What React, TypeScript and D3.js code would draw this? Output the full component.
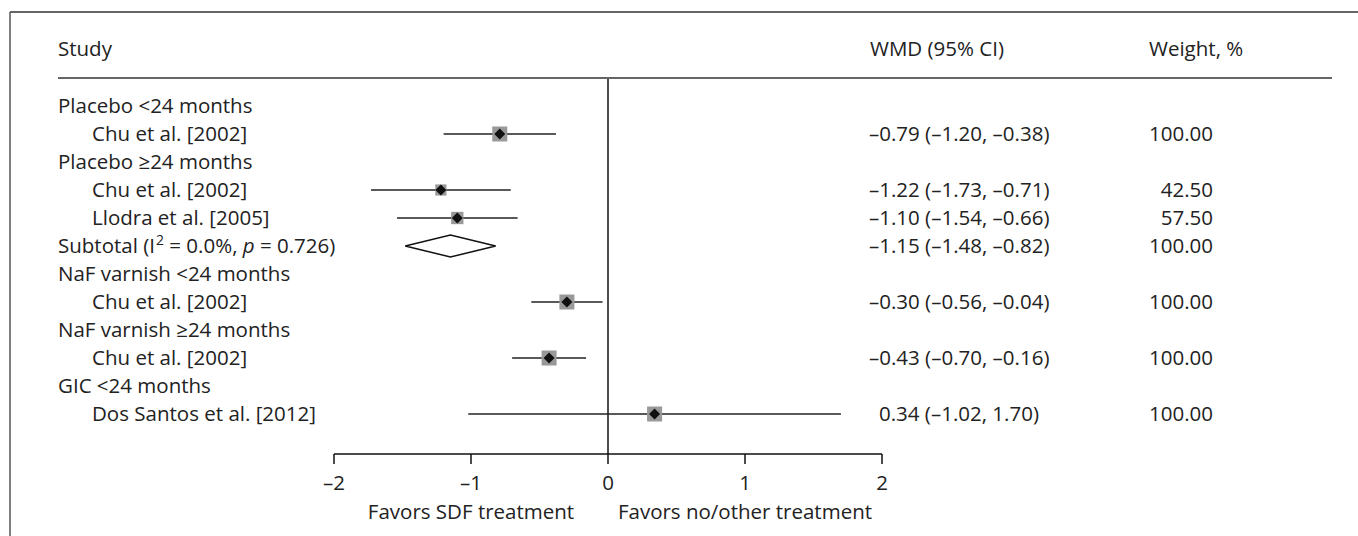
import React from "react";
import * as d3 from "d3";

const rowLabels = [
  "Placebo <24 months",
  "Chu et al. [2002]",
  "Placebo ≥24 months",
  "Chu et al. [2002]",
  "Llodra et al. [2005]",
  "Subtotal",
  "NaF varnish <24 months",
  "Chu et al. [2002]",
  "NaF varnish ≥24 months",
  "Chu et al. [2002]",
  "GIC <24 months",
  "Dos Santos et al. [2012]",
];
const rowKinds = ["group", "study", "group", "study", "study", "subtotal", "group", "study", "group", "study", "group", "study"];
const wmd: (number | null)[] = [null, -0.79, null, -1.22, -1.1, -1.15, null, -0.3, null, -0.43, null, 0.34];
const ciLow: (number | null)[] = [null, -1.2, null, -1.73, -1.54, -1.48, null, -0.56, null, -0.7, null, -1.02];
const ciHigh: (number | null)[] = [null, -0.38, null, -0.71, -0.66, -0.82, null, -0.04, null, -0.16, null, 1.7];
const weights: (number | null)[] = [null, 100, null, 42.5, 57.5, 100, null, 100, null, 100, null, 100];
const subtotalI2 = "0.0%";
const subtotalP = "0.726";
const xTicks = [-2, -1, 0, 1, 2];
const headers = ["Study", "WMD (95% CI)", "Weight, %"];
const favorLabels = ["Favors SDF treatment", "Favors no/other treatment"];
const favorAt = [-1, 1];

const W = 1358;
const H = 536;
const FONT = "'Open Sans', 'Noto Sans', sans-serif";
const TXT = "#222";
const FS = 20.5;

const fmt2 = d3.format(".2f");
const dash = (v: number) => fmt2(v).replace("−", "–").replace("-", "–");

export default function App() {
  const x = d3.scaleLinear().domain([-2, 2]).range([334, 882]);
  const y = d3.scaleLinear().domain([0, rowLabels.length - 1]).range([106, 414]);
  const side = d3.scaleSqrt().domain([0, 100]).range([4, 15]);
  const axisY = 454;
  const base = 7;

  return (
    <div style={{ position: "absolute", left: 0, top: 0 }}>
      <svg width={W} height={H} style={{ display: "block", background: "#fff" }} fontFamily={FONT}>
        {/* frame */}
        <line x1={10} x2={W} y1={12} y2={12} stroke="#333" strokeWidth={1.5} />
        <line x1={10} x2={10} y1={12} y2={H} stroke="#555" strokeWidth={1.5} />
        <line x1={58} x2={1332} y1={78} y2={78} stroke="#333" strokeWidth={1.5} />

        {/* headers */}
        <text x={58} y={56} fontSize={FS} fill={TXT}>{headers[0]}</text>
        <text x={870} y={56} fontSize={FS} fill={TXT}>{headers[1]}</text>
        <text x={1149} y={56} fontSize={FS} fill={TXT}>{headers[2]}</text>

        {/* null line */}
        <line x1={x(0)} x2={x(0)} y1={79} y2={axisY} stroke="#111" strokeWidth={1.5} />

        {rowLabels.map((lab, i) => {
          const kind = rowKinds[i];
          const cy = y(i);
          const tx = kind === "study" ? 92 : 58;
          return (
            <g key={i}>
              {kind === "subtotal" ? (
                <text x={tx} y={cy + base} fontSize={FS} fill={TXT} style={{ whiteSpace: "pre" }}>
                  {lab + " (I"}
                  <tspan fontSize={14} dx={1} dy={-8}>2</tspan>
                  <tspan dy={8}>{" = " + subtotalI2 + ", "}</tspan>
                  <tspan fontStyle="italic">p</tspan>
                  <tspan>{" = " + subtotalP + ")"}</tspan>
                </text>
              ) : (
                <text x={tx} y={cy + base} fontSize={FS} fill={TXT}>{lab}</text>
              )}
            </g>
          );
        })}

        {/* marks */}
        {rowLabels.map((_, i) => {
          const kind = rowKinds[i];
          const est = wmd[i];
          const lo = ciLow[i];
          const hi = ciHigh[i];
          const w = weights[i];
          if (est === null || lo === null || hi === null || w === null) return null;
          const cy = y(i);
          const cx = x(est);
          const txt = `${dash(est)} (${dash(lo)}, ${dash(hi)})`;
          const wx = est < 0 ? 869 : 879;
          return (
            <g key={"m" + i}>
              {kind === "subtotal" ? (
                <path
                  d={`M${x(lo)},${cy} L${cx},${cy - 11} L${x(hi)},${cy} L${cx},${cy + 11} Z`}
                  fill="#fff"
                  stroke="#111"
                  strokeWidth={1.5}
                />
              ) : (
                <>
                  <line x1={x(lo)} x2={x(hi)} y1={cy} y2={cy} stroke="#222" strokeWidth={1.5} />
                  <rect x={cx - side(w) / 2} y={cy - side(w) / 2} width={side(w)} height={side(w)} fill="#999" />
                  <path d={`M${cx - 5.5},${cy} L${cx},${cy - 5.5} L${cx + 5.5},${cy} L${cx},${cy + 5.5} Z`} fill="#111" />
                </>
              )}
              <text x={wx} y={cy + base} fontSize={FS} fill={TXT}>{txt}</text>
              <text x={1213} y={cy + base} fontSize={FS} fill={TXT} textAnchor="end">{fmt2(w)}</text>
            </g>
          );
        })}

        {/* axis */}
        <line x1={x(-2)} x2={x(2)} y1={axisY} y2={axisY} stroke="#111" strokeWidth={1.5} />
        {xTicks.map((t) => (
          <g key={t}>
            <line x1={x(t)} x2={x(t)} y1={axisY} y2={axisY + 10} stroke="#111" strokeWidth={1.5} />
            <text x={x(t)} y={axisY + 36} fontSize={FS} fill={TXT} textAnchor="middle">
              {t < 0 ? "–" + Math.abs(t) : String(t)}
            </text>
          </g>
        ))}
        {favorLabels.map((f, i) => (
          <text key={f} x={x(favorAt[i])} y={axisY + 65} fontSize={FS} fill={TXT} textAnchor="middle">{f}</text>
        ))}
      </svg>
    </div>
  );
}
